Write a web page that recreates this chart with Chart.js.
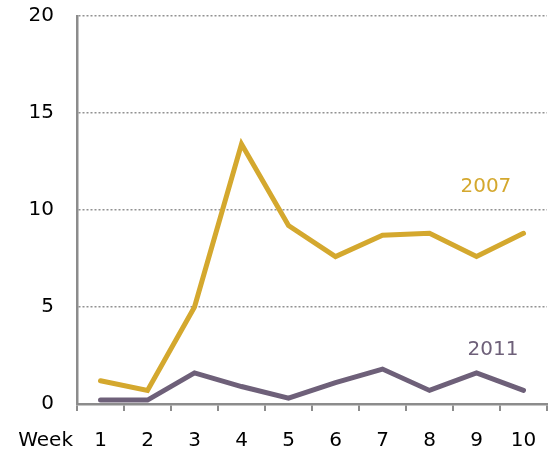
<!DOCTYPE html>
<html>
<head>
<meta charset="utf-8">
<script src="https://cdn.jsdelivr.net/npm/chart.js@4"></script>
<style>
  body { margin: 0; background: #fff; }
  #wrap { width: 550px; height: 455px; }
</style>
</head>
<body>
<div id="wrap"><canvas id="myChart" width="550" height="455"></canvas></div>
<script>
const weeks = ['1', '2', '3', '4', '5', '6', '7', '8', '9', '10'];
const values2007 = [1.2, 0.7, 5.0, 13.4, 9.2, 7.6, 8.7, 8.8, 7.6, 8.8];
const values2011 = [0.2, 0.2, 1.6, 0.9, 0.3, 1.1, 1.8, 0.7, 1.6, 0.7];
const yTicks = [0, 5, 10, 15, 20];

const gold = '#d4a82e';
const purple = '#6e6079';
const axisGray = '#8c8c8c';
const fontFamily = '"DejaVu Sans", Verdana, sans-serif';

// text labels next to the lines and the "Week" caption
const lineLabels = {
    id: 'lineLabels',
    afterDraw(chart) {
        const ctx = chart.ctx;
        const x = chart.scales.x;
        const y = chart.scales.y;
        ctx.save();
        ctx.font = '20px ' + fontFamily;
        ctx.textBaseline = 'middle';
        ctx.textAlign = 'center';
        ctx.fillStyle = gold;
        ctx.fillText('2007', x.getPixelForValue(8.2), y.getPixelForValue(11.2));
        ctx.fillStyle = purple;
        ctx.fillText('2011', x.getPixelForValue(8.35), y.getPixelForValue(2.8));
        ctx.fillStyle = '#000';
        ctx.textAlign = 'right';
        ctx.fillText('Week', 73, 441);
        ctx.restore();
    }
};

const ctx = document.getElementById('myChart').getContext('2d');
const myChart = new Chart(ctx, {
    type: 'line',
    data: {
        labels: weeks,
        datasets: [{
            label: '2007',
            data: values2007,
            borderColor: gold,
            borderWidth: 5,
            pointRadius: 0,
            tension: 0,
            borderCapStyle: 'round',
            borderJoinStyle: 'miter'
        }, {
            label: '2011',
            data: values2011,
            borderColor: purple,
            borderWidth: 5,
            pointRadius: 0,
            tension: 0,
            borderCapStyle: 'round',
            borderJoinStyle: 'miter'
        }]
    },
    options: {
        responsive: false,
        animation: false,
        layout: { padding: { top: 16, right: 3, left: 0, bottom: 0 } },
        plugins: {
            legend: { display: false },
            tooltip: { enabled: false }
        },
        scales: {
            x: {
                offset: true,
                grid: {
                    offset: true,
                    drawOnChartArea: false,
                    drawTicks: true,
                    tickLength: 7,
                    color: axisGray,
                    lineWidth: 2
                },
                border: { color: axisGray, width: 2.5 },
                ticks: {
                    color: '#000',
                    padding: 18,
                    maxRotation: 0,
                    font: { family: fontFamily, size: 20 }
                },
                afterFit(scale) {
                    scale.height = 51;
                    scale.paddingLeft = 0;
                    scale.paddingRight = 0;
                }
            },
            y: {
                min: 0,
                max: 20,
                afterBuildTicks(scale) { scale.ticks = yTicks.map(v => ({ value: v })); },
                grid: {
                    drawTicks: false,
                    color: ctx => ctx.tick && ctx.tick.value === 0 ? 'rgba(0,0,0,0)' : '#929292',
                    lineWidth: 1.5
                },
                border: { color: axisGray, width: 2.5, dash: [2, 2] },
                ticks: {
                    color: '#000',
                    padding: 23,
                    font: { family: fontFamily, size: 20 }
                },
                afterFit(scale) {
                    scale.width = 77;
                    scale.paddingTop = 0;
                    scale.paddingBottom = 0;
                }
            }
        }
    },
    plugins: [lineLabels]
});
</script>
</body>
</html>
